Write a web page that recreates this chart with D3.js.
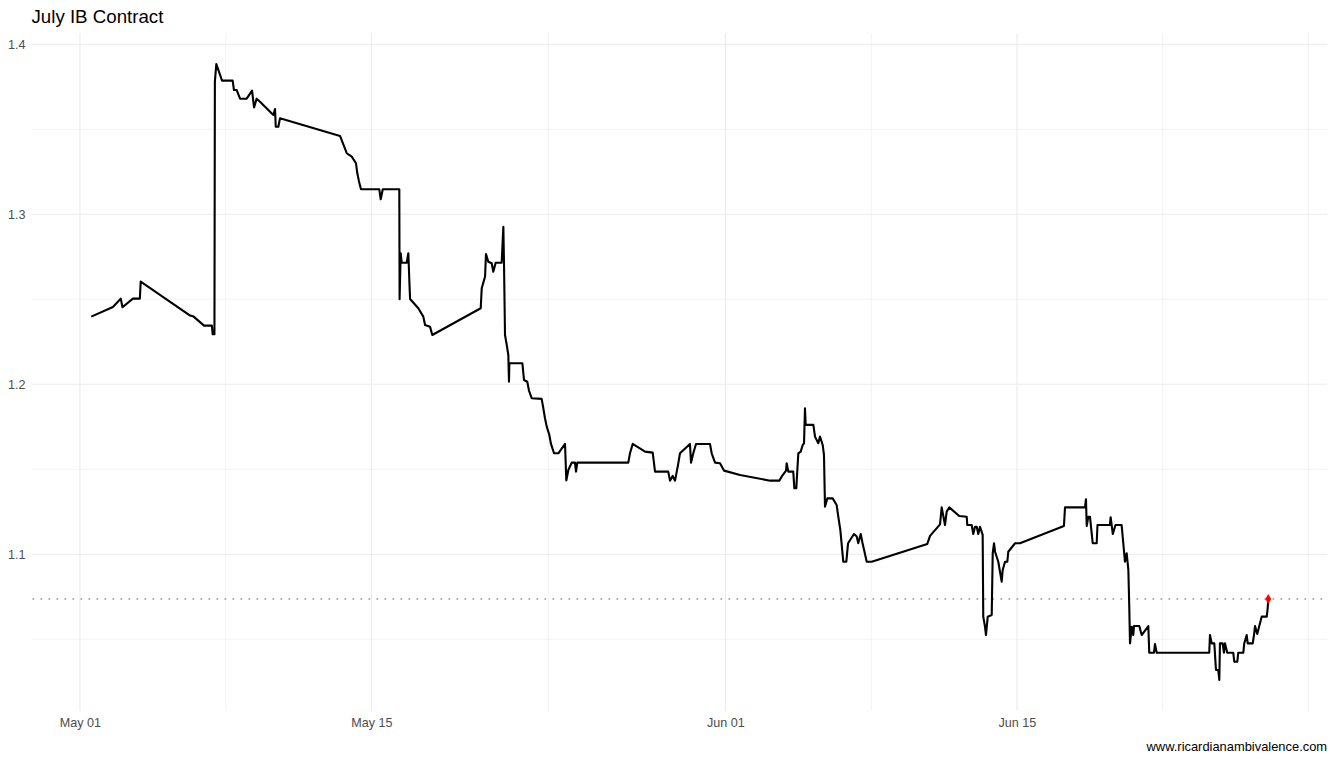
<!DOCTYPE html>
<html>
<head>
<meta charset="utf-8">
<script src="https://cdn.jsdelivr.net/npm/d3@7"></script>
<style>
  body { margin: 0; background: #fff; }
  text { font-family: "Liberation Sans", Arial, sans-serif; }
</style>
</head>
<body>
<div id="chart-container"></div>
<script>
(function () {
    'use strict';

    var width = 1335;
    var height = 761;

    // timestamps of each trade (year is arbitrary)
    var times = [
        '05-01 13:00', '05-02 14:00', '05-02 23:00', '05-03 01:00', '05-03 13:00', '05-03 21:00',
        '05-03 22:00', '05-06 07:00', '05-06 11:00', '05-06 23:00', '05-07 08:00', '05-07 09:00',
        '05-07 11:00', '05-07 11:30', '05-07 13:10', '05-07 19:45', '05-08 08:00', '05-08 09:30',
        '05-08 12:40', '05-08 16:30', '05-09 00:10', '05-09 06:20', '05-09 08:40', '05-09 11:40',
        '05-09 15:30', '05-10 06:55', '05-10 08:50', '05-10 09:40', '05-10 12:40', '05-10 14:35',
        '05-13 11:45', '05-13 19:30', '05-14 01:15', '05-14 06:10', '05-14 07:40', '05-14 09:40',
        '05-14 11:55', '05-15 09:00', '05-15 10:40', '05-15 13:00', '05-16 08:05', '05-16 08:25',
        '05-16 09:40', '05-16 10:50', '05-16 16:35', '05-16 18:30', '05-16 19:50', '05-16 20:30',
        '05-17 06:00', '05-17 11:45', '05-17 13:45', '05-17 19:30', '05-17 22:05', '05-20 05:55',
        '05-20 07:05', '05-20 10:55', '05-20 12:00', '05-20 14:40', '05-20 18:35', '05-20 20:25',
        '05-20 23:10', '05-21 06:05', '05-21 08:00', '05-21 08:45', '05-21 09:55', '05-21 11:55',
        '05-21 13:45', '05-21 14:30', '05-21 14:55', '05-22 05:55', '05-22 07:50', '05-22 11:35',
        '05-22 13:35', '05-22 16:40', '05-23 04:10', '05-23 06:05', '05-23 08:00', '05-23 10:00',
        '05-23 13:00', '05-23 14:55', '05-23 18:25', '05-23 23:25', '05-24 07:05', '05-24 08:35',
        '05-24 10:55', '05-24 14:50', '05-24 18:35', '05-24 19:45', '05-24 21:15', '05-27 08:00',
        '05-27 10:00', '05-27 13:05', '05-28 03:20', '05-28 12:10', '05-28 14:50', '05-29 06:05',
        '05-29 08:05', '05-29 11:10', '05-29 13:55', '05-29 17:40', '05-29 19:35', '05-30 07:05',
        '05-30 08:20', '05-30 10:55', '05-30 14:05', '05-31 06:10', '05-31 08:10', '05-31 12:00',
        '05-31 17:45', '05-31 22:25', '06-01 16:50', '06-03 03:25', '06-03 14:05', '06-03 18:00',
        '06-03 21:50', '06-03 22:35', '06-04 00:30', '06-04 06:10', '06-04 07:25', '06-04 09:40',
        '06-04 12:00', '06-04 14:45', '06-04 17:05', '06-04 18:35', '06-04 19:40', '06-04 20:30',
        '06-05 05:20', '06-05 07:15', '06-05 11:00', '06-05 13:00', '06-05 16:05', '06-05 17:35',
        '06-05 18:45', '06-05 21:25', '06-06 03:35', '06-06 08:10', '06-06 10:05', '06-06 12:25',
        '06-06 15:50', '06-06 19:20', '06-06 21:20', '06-07 04:10', '06-07 07:20', '06-07 09:05',
        '06-07 11:55', '06-07 14:00', '06-07 18:50', '06-08 00:35', '06-10 16:40', '06-10 19:50',
        '06-11 07:20', '06-11 09:15', '06-11 13:05', '06-11 15:00', '06-11 18:00', '06-12 05:30',
        '06-12 14:05', '06-12 14:45', '06-12 19:50', '06-12 21:40', '06-12 23:40', '06-13 01:40',
        '06-13 03:25', '06-13 05:25', '06-13 08:30', '06-13 09:10', '06-13 11:10', '06-13 12:20',
        '06-13 14:20', '06-13 18:55', '06-13 20:05', '06-13 21:35', '06-13 22:45', '06-14 02:30',
        '06-14 06:25', '06-14 07:35', '06-14 10:15', '06-14 12:55', '06-14 14:00', '06-14 21:50',
        '06-15 03:30', '06-17 06:10', '06-17 07:25', '06-18 06:25', '06-18 07:35', '06-18 08:25',
        '06-18 10:15', '06-18 12:10', '06-18 15:20', '06-18 19:55', '06-18 20:50', '06-19 11:10',
        '06-19 12:00', '06-19 14:30', '06-19 17:35', '06-20 00:40', '06-20 02:35', '06-20 04:30',
        '06-20 06:30', '06-20 08:25', '06-20 09:30', '06-20 10:20', '06-20 12:20', '06-20 14:05',
        '06-20 14:55', '06-20 21:00', '06-20 23:50', '06-21 07:25', '06-21 08:30', '06-21 13:55',
        '06-21 15:05', '06-21 17:05', '06-24 05:40', '06-24 06:30', '06-24 08:30', '06-24 11:30',
        '06-24 13:25', '06-24 16:05', '06-24 17:15', '06-24 18:00', '06-24 21:05', '06-24 22:35',
        '06-24 23:45', '06-25 02:25', '06-25 09:20', '06-25 10:30', '06-25 14:00', '06-25 15:05',
        '06-25 20:55', '06-25 22:00', '06-26 00:50', '06-26 02:00', '06-26 07:45', '06-26 09:15',
        '06-26 10:25', '06-26 13:00', '06-26 15:20', '06-26 18:05', '06-26 23:55', '06-27 01:00',
        '06-27 01:40'
    ];

    var prices = [
        1.2398, 1.2455, 1.2504, 1.2453, 1.2504, 1.2504,
        1.2604, 1.2404, 1.2398, 1.2345, 1.2345, 1.2294,
        1.2294, 1.3780, 1.3884, 1.3786, 1.3786, 1.3731,
        1.3731, 1.3680, 1.3680, 1.3727, 1.3629, 1.3680,
        1.3662, 1.3584, 1.3619, 1.3515, 1.3515, 1.3565,
        1.3461, 1.3359, 1.3339, 1.3300, 1.3241, 1.3192,
        1.3147, 1.3147, 1.3088, 1.3147, 1.3147, 1.2500,
        1.2771, 1.2715, 1.2715, 1.2771, 1.2584, 1.2502,
        1.2447, 1.2398, 1.2349, 1.2339, 1.2290, 1.2447,
        1.2565, 1.2633, 1.2766, 1.2721, 1.2712, 1.2662,
        1.2715, 1.2715, 1.2927, 1.2715, 1.2290, 1.2231,
        1.2172, 1.2015, 1.2124, 1.2124, 1.2025, 1.2015,
        1.1962, 1.1918, 1.1914, 1.1859, 1.1800, 1.1751,
        1.1702, 1.1649, 1.1594, 1.1594, 1.1649, 1.1434,
        1.1496, 1.1539, 1.1539, 1.1486, 1.1539, 1.1539,
        1.1594, 1.1649, 1.1604, 1.1598, 1.1486, 1.1486,
        1.1433, 1.1461, 1.1433, 1.1535, 1.1594, 1.1649,
        1.1539, 1.1594, 1.1649, 1.1649, 1.1594, 1.1539,
        1.1535, 1.1492, 1.1466, 1.1433, 1.1433, 1.1466,
        1.1492, 1.1535, 1.1486, 1.1486, 1.1388, 1.1388,
        1.1594, 1.1604, 1.1643, 1.1653, 1.1859, 1.1761,
        1.1761, 1.1692, 1.1653, 1.1692, 1.1643, 1.1584,
        1.1280, 1.1329, 1.1329, 1.1290, 1.1221, 1.1143,
        1.0956, 1.0956, 1.1065, 1.1119, 1.1104, 1.1065,
        1.1119, 1.1066, 1.0956, 1.0956, 1.1061, 1.1108,
        1.1176, 1.1276, 1.1172, 1.1251, 1.1276, 1.1225,
        1.1221, 1.1172, 1.1172, 1.1119, 1.1162, 1.1162,
        1.1119, 1.1162, 1.1114, 1.0633, 1.0574, 1.0525,
        1.0633, 1.0643, 1.1006, 1.1065, 1.1015, 1.0956,
        1.0839, 1.0908, 1.0956, 1.0956, 1.1015, 1.1065,
        1.1065, 1.1166, 1.1276, 1.1276, 1.1324, 1.1166,
        1.1221, 1.1221, 1.1065, 1.1065, 1.1172, 1.1172,
        1.1218, 1.1119, 1.1172, 1.1172, 1.1065, 1.0956,
        1.1006, 1.0908, 1.0682, 1.0476, 1.0574, 1.0525,
        1.0578, 1.0578, 1.0525, 1.0578, 1.0421, 1.0421,
        1.0472, 1.0421, 1.0421, 1.0525, 1.0476, 1.0476,
        1.0319, 1.0319, 1.0261, 1.0476, 1.0476, 1.0421,
        1.0476, 1.0421, 1.0421, 1.0368, 1.0368, 1.0421,
        1.0421, 1.0476, 1.0525, 1.0476, 1.0476, 1.0525,
        1.0578, 1.0531, 1.0578, 1.0633, 1.0633, 1.0682,
        1.0737
    ];

    var xBreaks = ['05-01 00:00', '05-15 00:00', '06-01 00:00', '06-15 00:00'];
    var xMinorBreaks = ['05-08 00:00', '05-23 12:00', '06-08 00:00', '06-22 00:00', '06-29 00:00'];
    var yBreaks = [1.1, 1.2, 1.3, 1.4];
    var yMinorBreaks = [1.05, 1.15, 1.25, 1.35];

    var parseTime = d3.timeParse('%Y-%m-%d %H:%M');
    var toDate = function (s) { return parseTime('2018-' + s); };

    var data = times.map(function (t, i) {
        return { date: toDate(t), price: prices[i] };
    });
    var last = data[data.length - 1];

    // ggplot style 5% expansion of the data range
    var expand = function (ext) {
        var pad = (ext[1] - ext[0]) * 0.05;
        return [ext[0] - pad, ext[1] + pad];
    };
    var xExt = d3.extent(data, function (d) { return +d.date; });
    var yExt = d3.extent(data, function (d) { return d.price; });

    var panel = { left: 32.4, right: 1327.1, top: 33.2, bottom: 710.7 };

    var x = d3.scaleTime()
        .domain(expand(xExt).map(function (v) { return new Date(v); }))
        .range([panel.left, panel.right]);

    var y = d3.scaleLinear()
        .domain(expand(yExt))
        .range([panel.bottom, panel.top]);

    var svg = d3.select('#chart-container')
        .append('svg')
        .attr('width', width)
        .attr('height', height);

    var grid = svg.append('g').attr('class', 'grid');

    // minor grid
    grid.selectAll('line.ymin')
        .data(yMinorBreaks)
        .enter()
        .append('line')
        .attr('x1', panel.left).attr('x2', panel.right)
        .attr('y1', function (d) { return y(d); })
        .attr('y2', function (d) { return y(d); })
        .style('stroke', '#ebebeb')
        .style('stroke-width', 0.6);

    grid.selectAll('line.xmin')
        .data(xMinorBreaks.map(toDate))
        .enter()
        .append('line')
        .attr('y1', panel.top).attr('y2', panel.bottom)
        .attr('x1', function (d) { return x(d); })
        .attr('x2', function (d) { return x(d); })
        .style('stroke', '#ebebeb')
        .style('stroke-width', 0.6);

    // major grid
    grid.selectAll('line.ymaj')
        .data(yBreaks)
        .enter()
        .append('line')
        .attr('x1', panel.left).attr('x2', panel.right)
        .attr('y1', function (d) { return y(d); })
        .attr('y2', function (d) { return y(d); })
        .style('stroke', '#ebebeb')
        .style('stroke-width', 1.1);

    grid.selectAll('line.xmaj')
        .data(xBreaks.map(toDate))
        .enter()
        .append('line')
        .attr('y1', panel.top).attr('y2', panel.bottom)
        .attr('x1', function (d) { return x(d); })
        .attr('x2', function (d) { return x(d); })
        .style('stroke', '#ebebeb')
        .style('stroke-width', 1.1);

    // axes (text only, like theme_minimal)
    var yAxis = d3.axisLeft(y)
        .tickValues(yBreaks)
        .tickFormat(d3.format('.1f'))
        .tickSize(0)
        .tickPadding(5);

    svg.append('g')
        .attr('transform', 'translate(' + (panel.left - 2) + ',0)')
        .call(yAxis)
        .call(function (g) { g.select('.domain').remove(); })
        .selectAll('text')
        .style('font-family', '"Liberation Sans", Arial, sans-serif')
        .style('font-size', '12.6px')
        .style('fill', '#4d4d4d');

    var xAxis = d3.axisBottom(x)
        .tickValues(xBreaks.map(toDate))
        .tickFormat(d3.timeFormat('%b %d'))
        .tickSize(0)
        .tickPadding(5);

    svg.append('g')
        .attr('transform', 'translate(0,' + (panel.bottom + 2) + ')')
        .call(xAxis)
        .call(function (g) { g.select('.domain').remove(); })
        .selectAll('text')
        .style('font-family', '"Liberation Sans", Arial, sans-serif')
        .style('font-size', '12.6px')
        .style('fill', '#4d4d4d');

    // last price reference line
    svg.append('line')
        .attr('x1', panel.left).attr('x2', panel.right)
        .attr('y1', y(last.price)).attr('y2', y(last.price))
        .style('stroke', '#b3b3b3')
        .style('stroke-width', 1.8)
        .style('stroke-dasharray', '1.8,6.2');

    var line = d3.line()
        .x(function (d) { return x(d.date); })
        .y(function (d) { return y(d.price); });

    svg.append('path')
        .datum(data)
        .attr('d', line)
        .style('fill', 'none')
        .style('stroke', '#000')
        .style('stroke-width', 2.1)
        .style('stroke-linejoin', 'round');

    svg.append('path')
        .attr('d', d3.symbol().type(d3.symbolDiamond).size(30)())
        .attr('transform', 'translate(' + x(last.date) + ',' + y(last.price) + ')')
        .style('fill', '#ff0000');

    svg.append('text')
        .attr('x', 31.5)
        .attr('y', 23)
        .style('font-size', '18.7px')
        .style('fill', '#000')
        .text('July IB Contract');

    svg.append('text')
        .attr('x', panel.right)
        .attr('y', 751)
        .attr('text-anchor', 'end')
        .style('font-size', '12.9px')
        .style('fill', '#000')
        .text('www.ricardianambivalence.com');
}());
</script>
</body>
</html>
